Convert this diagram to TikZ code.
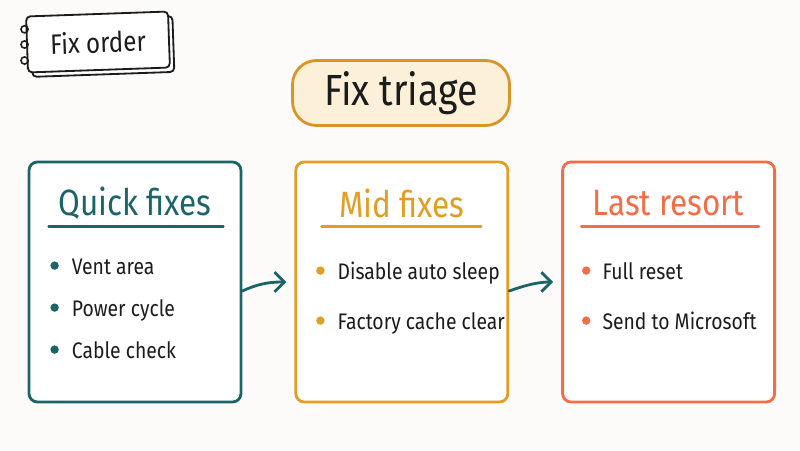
\documentclass[tikz,border=0pt]{standalone}
\usepackage{fontspec}
\setmainfont[FakeStretch=0.86]{Fira Sans}
\usepackage{xcolor}
\usetikzlibrary{positioning, arrows.meta}

\definecolor{paper}{HTML}{FCFBF9}
\definecolor{fixteal}{HTML}{1B6467}
\definecolor{fixgold}{HTML}{E39D22}
\definecolor{fixcoral}{HTML}{F26D48}
\definecolor{pillfill}{HTML}{FDF0D8}
\definecolor{pillline}{HTML}{D99528}
\definecolor{ink}{HTML}{1C1C1C}

\tikzset{
  box/.style={draw, line width=2pt, rounded corners=6pt, fill=white,
    minimum width=5.3cm, minimum height=6cm},
  boxtitle/.style={font=\fontsize{26}{30}\selectfont},
  item/.style={font=\fontsize{16}{20}\selectfont, text=ink, inner sep=0pt, anchor=base west},
  rule/.style={line width=1.6pt, line cap=round},
  tagpage/.style={draw=ink, line width=1.3pt, rounded corners=3pt, fill=white,
    minimum width=3.55cm, minimum height=1.4cm, rotate=2},
  flow/.style={->, fixteal, line width=2pt, line cap=round, shorten >=0.2cm}
}

\begin{document}
\begin{tikzpicture}[>={Straight Barb[length=7pt,width=14pt]}, node distance=1.3cm]
  \path[use as bounding box, fill=paper] (0,0) rectangle (20,11.25);

  % notebook tag
  \node[tagpage] (tagback) at (2.56,10.09) {};
  \node[tagpage, font=\fontsize{20}{24}\selectfont, text=ink] (tag) at (2.45,10.2) {Fix order};
  \foreach \dy [count=\r] in {0.38,0,-0.4}
    \draw[ink, line width=1.1pt] ([xshift=-0.04cm, yshift=\dy cm]tag.west) circle (0.09)
      coordinate (ring\r);

  % title pill
  \node[draw=pillline, fill=pillfill, line width=2pt, rounded corners=0.6cm,
        minimum width=5.425cm, minimum height=1.625cm, text=ink,
        font=\fontsize{31}{36}\selectfont] (triage) at (10.025,8.925) {Fix triage};

  % the three boxes
  \node[box, draw=fixteal] (quick) at (3.375,4.2) {};
  \node[box, draw=fixgold, right=of quick] (mid) {};
  \node[box, draw=fixcoral, right=of mid] (last) {};

  \node[boxtitle, text=fixteal] (quick-title) at ([yshift=-1.07cm]quick.north) {Quick fixes};
  \node[boxtitle, text=fixgold] (mid-title) at ([yshift=-1.07cm]mid.north) {Mid fixes};
  \node[boxtitle, text=fixcoral] (last-title) at ([yshift=-1.07cm]last.north) {Last resort};

  \draw[rule, fixteal] ([xshift=0.525cm, yshift=-1.65cm]quick.north west)
    -- ([xshift=-0.475cm, yshift=-1.65cm]quick.north east);
  \draw[rule, fixgold] ([xshift=0.675cm, yshift=-1.65cm]mid.north west)
    -- ([xshift=-0.7cm, yshift=-1.65cm]mid.north east);
  \draw[rule, fixcoral] ([xshift=0.5cm, yshift=-1.65cm]last.north west)
    -- ([xshift=-0.425cm, yshift=-1.65cm]last.north east);

  % bullet items
  \foreach \txt [count=\i] in {Vent area, Power cycle, Cable check} {
    \fill[fixteal] ([xshift=0.675cm, yshift={-1.575cm-1.05cm*\i}]quick.north west) circle (0.105);
    \node[item] (quick-\i) at ([xshift=1.1cm, yshift={-1.8cm-1.05cm*\i}]quick.north west) {\txt};
  }
  \foreach \txt [count=\i] in {Disable auto sleep, Factory cache clear} {
    \fill[fixgold] ([xshift=0.65cm, yshift={-1.5cm-1.25cm*\i}]mid.north west) circle (0.105);
    \node[item] (mid-\i) at ([xshift=1.075cm, yshift={-1.73cm-1.25cm*\i}]mid.north west) {\txt};
  }
  \foreach \txt [count=\i] in {Full reset, Send to Microsoft} {
    \fill[fixcoral] ([xshift=0.625cm, yshift={-1.5cm-1.25cm*\i}]last.north west) circle (0.105);
    \node[item] (last-\i) at ([xshift=1.025cm, yshift={-1.73cm-1.25cm*\i}]last.north west) {\txt};
  }

  % flow arrows
  \draw[flow] ([yshift=-0.225cm]quick.east) to[out=25, in=180] (mid.west);
  \draw[flow] ([yshift=-0.225cm]mid.east) to[out=20, in=180] (last.west);
\end{tikzpicture}
\end{document}
